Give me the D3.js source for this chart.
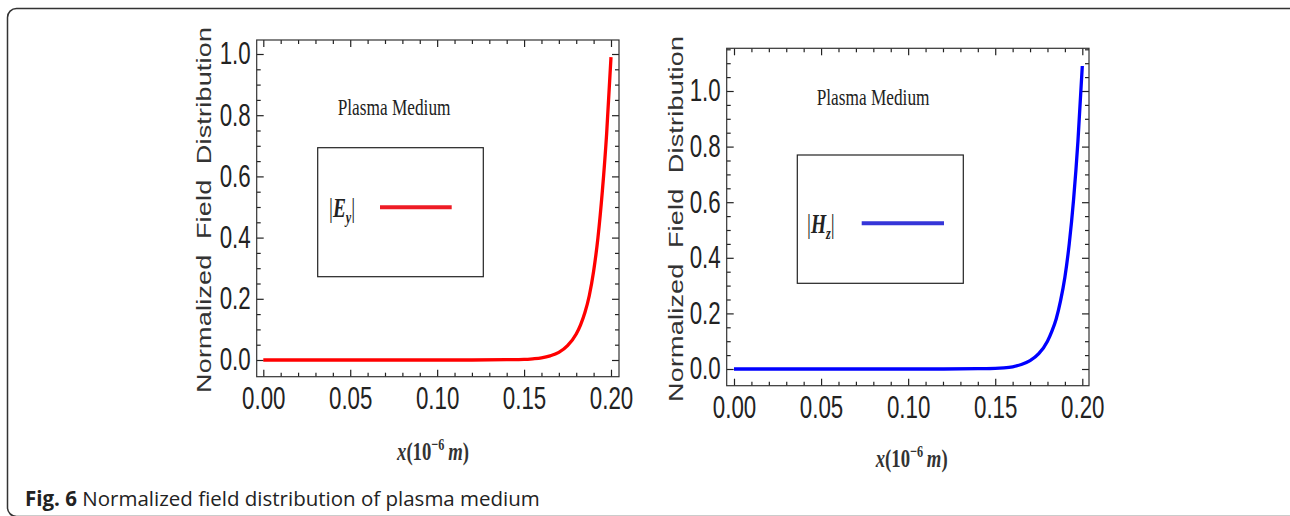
<!DOCTYPE html>
<html>
<head>
<meta charset="utf-8">
<script src="https://cdn.jsdelivr.net/npm/d3@7"></script>
<style>
  body { margin: 0; background: #fff; }
  svg { display: block; }
</style>
</head>
<body>
<svg width="1290" height="516"></svg>
<script>
// values (x in 10^-6 m)
var xValues  = [0, 0.02, 0.04, 0.06, 0.08, 0.10, 0.12, 0.14, 0.15, 0.155, 0.16, 0.165, 0.17, 0.175, 0.18, 0.1825, 0.185, 0.1875, 0.19, 0.1925, 0.195, 0.1975, 0.2];
var eyValues = [0, 0, 0, 0, 0, 0, 0, 0.001, 0.002, 0.004, 0.007, 0.0135, 0.025, 0.047, 0.085, 0.115, 0.155, 0.21, 0.29, 0.40, 0.55, 0.74, 0.99];
var hzValues = [0, 0, 0, 0, 0, 0, 0, 0.001, 0.002, 0.004, 0.008, 0.016, 0.03, 0.055, 0.10, 0.135, 0.18, 0.245, 0.33, 0.45, 0.61, 0.82, 1.09];

var xTicks = [0, 0.05, 0.10, 0.15, 0.20];
var yTicks = [0, 0.2, 0.4, 0.6, 0.8, 1.0];

var panelTitle = 'Plasma Medium';
var yTitle = 'Normalized  Field  Distribution';
var captionBold = 'Fig. 6';
var captionText = ' Normalized field distribution of plasma medium';

var svg = d3.select('svg');
var squish = 0.72;   // the original figure is horizontally compressed

// rounded outer border
svg.append('rect')
    .attr('x', 7.5).attr('y', 8.5)
    .attr('width', 1300).attr('height', 508)
    .attr('rx', 9).attr('ry', 9)
    .attr('fill', 'none')
    .attr('stroke', '#333')
    .attr('stroke-width', 1.5);

var caption = svg.append('text')
    .attr('x', 25).attr('y', 506)
    .style('font-family', '"Open Sans", sans-serif')
    .style('font-size', '20.5px')
    .attr('fill', '#222');
caption.append('tspan').style('font-weight', 'bold').text(captionBold);
caption.append('tspan').text(captionText);

function drawPanel(p) {
    var x = d3.scaleLinear().domain([0, 0.2]).range([p.x0, p.x1]);
    var y = d3.scaleLinear().domain([0, 1]).range([p.y0, p.y1]);

    var xMinor = d3.range(0, 0.2001, 0.01).filter(function(v) { return Math.abs(v / 0.05 - Math.round(v / 0.05)) > 1e-6; });
    var yMinor = d3.range(0, p.yMax, 0.05).filter(function(v) { return Math.abs(v / 0.2 - Math.round(v / 0.2)) > 1e-6; });

    var g = svg.append('g');

    function addAxis(axis, tx, ty) {
        var a = g.append('g')
            .attr('transform', 'translate(' + [tx, ty] + ')')
            .call(axis);
        a.select('.domain').remove();
        a.selectAll('line').attr('stroke', '#222').attr('stroke-width', 1.2);
        return a;
    }
    var fr = p.frame;
    // minor ticks on all four sides, major ticks mirrored on top/right
    addAxis(d3.axisBottom(x).tickValues(xMinor).tickSizeInner(-4).tickSizeOuter(0).tickFormat(''), 0, fr.b);
    addAxis(d3.axisTop(x).tickValues(xMinor).tickSizeInner(-4).tickSizeOuter(0).tickFormat(''), 0, fr.t);
    addAxis(d3.axisLeft(y).tickValues(yMinor).tickSizeInner(-4).tickSizeOuter(0).tickFormat(''), fr.l, 0);
    addAxis(d3.axisRight(y).tickValues(yMinor).tickSizeInner(-4).tickSizeOuter(0).tickFormat(''), fr.r, 0);
    addAxis(d3.axisTop(x).tickValues(xTicks).tickSizeInner(-7).tickSizeOuter(0).tickFormat(''), 0, fr.t);
    addAxis(d3.axisRight(y).tickValues(yTicks).tickSizeInner(-7).tickSizeOuter(0).tickFormat(''), fr.r, 0);

    var bx = addAxis(d3.axisBottom(x).tickValues(xTicks).tickSizeInner(-7).tickSizeOuter(0)
        .tickPadding(10).tickFormat(d3.format('.2f')), 0, fr.b);
    bx.selectAll('text')
        .attr('transform', 'scale(' + squish + ',1)')
        .style('font-family', '"Liberation Sans", Arial, sans-serif')
        .style('font-size', '31px')
        .attr('fill', '#222');

    var ly = addAxis(d3.axisLeft(y).tickValues(yTicks).tickSizeInner(-7).tickSizeOuter(0)
        .tickPadding(6).tickFormat(d3.format('.1f')), fr.l, 0);
    ly.selectAll('text')
        .attr('x', -6 / squish)
        .attr('transform', 'scale(' + squish + ',1)')
        .style('font-family', '"Liberation Sans", Arial, sans-serif')
        .style('font-size', '31px')
        .attr('fill', '#222');

    // frame
    g.append('rect')
        .attr('x', fr.l).attr('y', fr.t)
        .attr('width', fr.r - fr.l).attr('height', fr.b - fr.t)
        .attr('fill', 'none')
        .attr('stroke', '#333')
        .attr('stroke-width', 1.2);

    // curve
    var line = d3.line()
        .x(function(d) { return x(d[0]); })
        .y(function(d) { return y(d[1]); })
        .curve(d3.curveMonotoneX);
    g.append('path')
        .datum(d3.zip(xValues, p.values))
        .attr('d', line)
        .attr('fill', 'none')
        .attr('stroke', p.color)
        .attr('stroke-width', 3.3)
        .attr('stroke-linejoin', 'round');

    // panel title
    g.append('text')
        .attr('transform', 'translate(' + p.title + ') scale(' + squish + ',1)')
        .style('font-family', '"Liberation Serif", "Times New Roman", serif')
        .style('font-size', '24px')
        .attr('fill', '#222')
        .text(panelTitle);

    // y axis title
    g.append('text')
        .attr('transform', 'translate(' + p.yTitle + ') scale(' + squish + ',1) rotate(-90)')
        .attr('text-anchor', 'middle')
        .attr('dy', '0.36em')
        .attr('textLength', 366)
        .attr('lengthAdjust', 'spacing')
        .style('font-family', '"Liberation Sans", Arial, sans-serif')
        .style('font-size', '27px')
        .style('white-space', 'pre')
        .attr('fill', '#333')
        .text(yTitle);

    // x axis title
    var xt = g.append('text')
        .attr('transform', 'translate(' + p.xTitle + ') scale(' + squish + ',1)')
        .attr('text-anchor', 'middle')
        .style('font-family', '"Liberation Serif", "Times New Roman", serif')
        .style('font-size', '26px')
        .style('font-weight', 'bold')
        .attr('fill', '#333');
    xt.append('tspan').style('font-style', 'italic').text('x');
    xt.append('tspan').text('(10');
    xt.append('tspan').attr('dy', -10).style('font-size', '17px').text('\u22126');
    xt.append('tspan').attr('dy', 10).text('\u2009');
    xt.append('tspan').style('font-style', 'italic').text('m');
    xt.append('tspan').text(')');

    // legend box
    var lb = p.legend;
    g.append('rect')
        .attr('x', lb.x).attr('y', lb.y)
        .attr('width', lb.w).attr('height', lb.h)
        .attr('fill', 'none')
        .attr('stroke', '#222')
        .attr('stroke-width', 1.2);
    g.append('line')
        .attr('x1', lb.lx0).attr('x2', lb.lx1)
        .attr('y1', lb.ly).attr('y2', lb.ly)
        .attr('stroke', p.legendColor)
        .attr('stroke-width', 4);
    var lt = g.append('text')
        .attr('transform', 'translate(' + [lb.tx, lb.ty] + ') scale(' + squish + ',1)')
        .style('font-family', '"Liberation Serif", "Times New Roman", serif')
        .style('font-size', '27px')
        .attr('fill', '#222');
    lt.append('tspan').text('|');
    lt.append('tspan').style('font-weight', 'bold').style('font-style', 'italic').text(p.symbol);
    lt.append('tspan').attr('dy', 6).style('font-size', '17px').style('font-weight', 'bold').style('font-style', 'italic').text(p.sub);
    lt.append('tspan').attr('dy', -6).text('|');
}

drawPanel({
    values: eyValues, color: '#ff0000', legendColor: '#ee1c25',
    symbol: 'E', sub: 'y', yMax: 1.046,
    x0: 263.3, x1: 611, y0: 360, y1: 54,
    frame: {l: 256.7, r: 619, t: 40, b: 376.7},
    title: [337.7, 115], yTitle: [204, 210], xTitle: [433, 460],
    legend: {x: 317.7, y: 147.7, w: 165.6, h: 129, lx0: 380, lx1: 451.7, ly: 207.3, tx: 329, ty: 217}
});

drawPanel({
    values: hzValues, color: '#0000ff', legendColor: '#3535d8',
    symbol: 'H', sub: 'z', yMax: 1.155,
    x0: 734, x1: 1082.3, y0: 369, y1: 91,
    frame: {l: 726.7, r: 1089, t: 48.3, b: 385.7},
    title: [816.7, 105], yTitle: [675.5, 219], xTitle: [911.7, 466.7],
    legend: {x: 797.3, y: 155, w: 166, h: 128.3, lx0: 861.7, lx1: 944, ly: 223.3, tx: 807, ty: 233}
});
</script>
</body>
</html>
